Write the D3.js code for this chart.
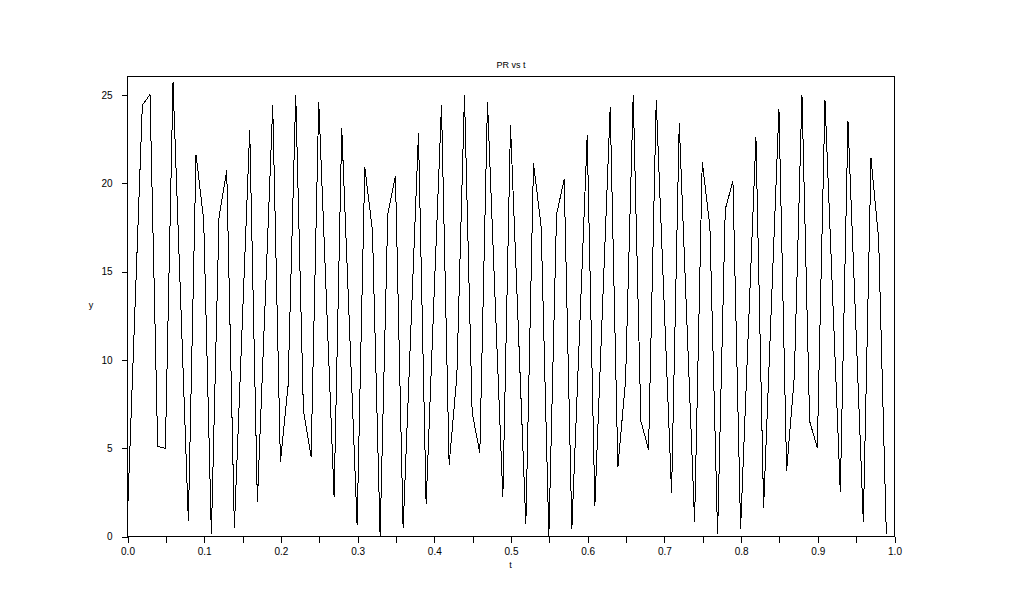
<!DOCTYPE html>
<html>
<head>
<meta charset="utf-8">
<script src="https://cdn.jsdelivr.net/npm/d3@7/dist/d3.min.js"></script>
<style>
  html, body { margin: 0; padding: 0; background: #ffffff; }
  svg { display: block; }
  text { font-family: "Liberation Sans", Arial, sans-serif; fill: #000; }
</style>
</head>
<body>
<svg id="chart" width="1022" height="612"></svg>
<script>
// ---- data ----
const title = "PR vs t";
const xLabel = "t";
const yLabel = "y";

const tValues = [
  0.00, 0.01, 0.02, 0.03, 0.04, 0.05, 0.06, 0.07, 0.08, 0.09,
  0.10, 0.11, 0.12, 0.13, 0.14, 0.15, 0.16, 0.17, 0.18, 0.19,
  0.20, 0.21, 0.22, 0.23, 0.24, 0.25, 0.26, 0.27, 0.28, 0.29,
  0.30, 0.31, 0.32, 0.33, 0.34, 0.35, 0.36, 0.37, 0.38, 0.39,
  0.40, 0.41, 0.42, 0.43, 0.44, 0.45, 0.46, 0.47, 0.48, 0.49,
  0.50, 0.51, 0.52, 0.53, 0.54, 0.55, 0.56, 0.57, 0.58, 0.59,
  0.60, 0.61, 0.62, 0.63, 0.64, 0.65, 0.66, 0.67, 0.68, 0.69,
  0.70, 0.71, 0.72, 0.73, 0.74, 0.75, 0.76, 0.77, 0.78, 0.79,
  0.80, 0.81, 0.82, 0.83, 0.84, 0.85, 0.86, 0.87, 0.88, 0.89,
  0.90, 0.91, 0.92, 0.93, 0.94, 0.95, 0.96, 0.97, 0.98, 0.99
];

const prValues = [
  0.38, 12.4, 24.4, 25.0, 5.07, 4.97, 25.7, 13.3, 0.85, 21.6,
  17.9, 0.1, 18.05, 20.7, 0.47, 11.7, 23.0, 1.9, 13.1, 24.4,
  4.2, 8.5, 25.0, 7.1, 4.5, 24.6, 13.4, 2.2, 23.1, 11.9,
  0.62, 20.9, 17.3, 0.0, 18.2, 20.4, 0.43, 11.6, 22.8, 1.8,
  13.2, 24.4, 4.05, 9.0, 25.0, 7.0, 4.7, 24.6, 13.3, 2.2,
  23.25, 12.0, 0.66, 21.1, 17.5, 0.0, 18.2, 20.2, 0.4, 11.5,
  22.7, 1.7, 13.0, 24.3, 3.9, 8.8, 25.0, 6.5, 4.9, 24.7,
  13.5, 2.45, 23.4, 12.1, 0.8, 21.2, 17.5, 0.1, 18.5, 20.1,
  0.4, 11.5, 22.6, 1.6, 12.9, 24.2, 3.7, 9.0, 25.0, 6.5,
  5.0, 24.7, 13.6, 2.5, 23.5, 12.2, 0.8, 21.4, 16.8, 0.1
];

const xTickValues = [0.0, 0.05, 0.1, 0.15, 0.2, 0.25, 0.3, 0.35, 0.4, 0.45, 0.5,
                     0.55, 0.6, 0.65, 0.7, 0.75, 0.8, 0.85, 0.9, 0.95, 1.0];
const xTickLabels = ["0.0", "", "0.1", "", "0.2", "", "0.3", "", "0.4", "", "0.5",
                     "", "0.6", "", "0.7", "", "0.8", "", "0.9", "", "1.0"];
const yTickValues = [0, 5, 10, 15, 20, 25];
const yTickLabels = ["0", "5", "10", "15", "20", "25"];
const xDomain = [0, 1];
const yDomain = [0, 26.05];

// ---- layout ----
const plot = { left: 127, right: 894, top: 76, bottom: 536 };

const svg = d3.select("#chart");
svg.append("rect").attr("width", 1022).attr("height", 612).attr("fill", "#ffffff");

const x = d3.scaleLinear().domain(xDomain).range([plot.left, plot.right]);
const y = d3.scaleLinear().domain(yDomain).range([plot.bottom, plot.top]);

// frame
svg.append("rect")
  .attr("x", plot.left + 0.5).attr("y", plot.top + 0.5)
  .attr("width", plot.right - plot.left).attr("height", plot.bottom - plot.top)
  .attr("fill", "none").attr("stroke", "#000").attr("stroke-width", 1)
  .attr("shape-rendering", "crispEdges");

// x axis
const xAxis = d3.axisBottom(x)
  .tickValues(xTickValues)
  .tickSize(6)
  .tickPadding(5)
  .tickFormat((d, i) => xTickLabels[i]);
const gx = svg.append("g")
  .attr("transform", `translate(0.5,${plot.bottom + 0.5})`)
  .call(xAxis);
gx.select(".domain").remove();
gx.selectAll("line").attr("stroke", "#000").attr("shape-rendering", "crispEdges");
gx.selectAll("text").attr("font-size", 10).attr("font-family", "Liberation Sans, Arial, sans-serif");

// y axis
const yAxis = d3.axisLeft(y)
  .tickValues(yTickValues)
  .tickSize(6)
  .tickPadding(9)
  .tickFormat((d, i) => yTickLabels[i]);
const gy = svg.append("g")
  .attr("transform", `translate(${plot.left + 0.5},0.5)`)
  .call(yAxis);
gy.select(".domain").remove();
gy.selectAll("line").attr("stroke", "#000").attr("shape-rendering", "crispEdges");
gy.selectAll("text").attr("font-size", 10).attr("font-family", "Liberation Sans, Arial, sans-serif");

// line
const pts = tValues.map((t, i) => [t, prValues[i]]);
const line = d3.line().x(d => x(d[0])).y(d => y(d[1]));
svg.append("path")
  .datum(pts)
  .attr("d", line)
  .attr("fill", "none")
  .attr("stroke", "#000")
  .attr("stroke-width", 1)
  .attr("shape-rendering", "crispEdges")
  .attr("stroke-linejoin", "miter");

// title and labels
svg.append("text")
  .attr("x", (plot.left + plot.right) / 2 + 0.5).attr("y", 68)
  .attr("text-anchor", "middle").attr("font-size", 9)
  .text(title);
svg.append("text")
  .attr("x", (plot.left + plot.right) / 2).attr("y", 568)
  .attr("text-anchor", "middle").attr("font-size", 9)
  .text(xLabel);
svg.append("text")
  .attr("x", 91).attr("y", 308)
  .attr("text-anchor", "middle").attr("font-size", 9)
  .text(yLabel);
</script>
</body>
</html>
